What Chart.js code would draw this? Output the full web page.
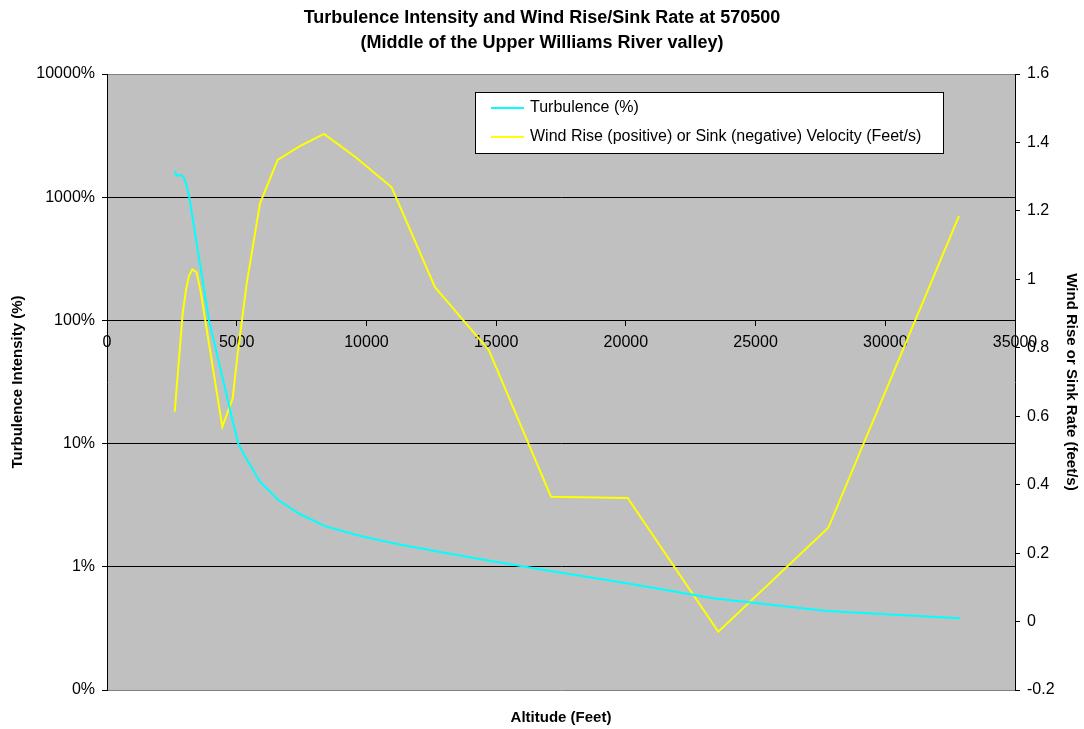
<!DOCTYPE html>
<html>
<head>
<meta charset="utf-8">
<title>Turbulence Intensity and Wind Rise/Sink Rate at 570500</title>
<script src="https://cdn.jsdelivr.net/npm/chart.js@4.4.0/dist/chart.umd.min.js"></script>
<style>
  html, body { margin: 0; padding: 0; background: #ffffff; }
  #wrap { width: 1084px; height: 729px; position: relative; }
</style>
</head>
<body>
<div id="wrap"><canvas id="chart"></canvas></div>
<script>
// --- DATA ---
const turbAlt = [2610, 2687, 2841, 2941, 3045, 3172, 3932, 4290, 4868, 5061, 5319, 5898, 6603, 7374, 8403, 9625, 11036, 12578, 14251, 16690, 20032, 23370, 27741, 32880];
const turbPct = [1633, 1496, 1514, 1466, 1297, 1000, 100, 47.8, 14.6, 10, 7.84, 4.91, 3.48, 2.72, 2.14, 1.81, 1.55, 1.35, 1.17, 0.955, 0.734, 0.555, 0.438, 0.382];

const windAlt = [2610, 2918, 3045, 3161, 3289, 3457, 3611, 4445, 4845, 5023, 5385, 5898, 6578, 7401, 8365, 9560, 10974, 12643, 14720, 17114, 20070, 23564, 27804, 32839];
const windVel = [0.613, 0.901, 0.969, 1.010, 1.029, 1.020, 0.964, 0.569, 0.652, 0.774, 0.988, 1.222, 1.349, 1.388, 1.425, 1.358, 1.269, 0.977, 0.793, 0.365, 0.361, -0.030, 0.274, 1.185];

const altTicks = [0, 5000, 10000, 15000, 20000, 25000, 30000, 35000];
const pctTicks = [0.1, 1, 10, 100, 1000, 10000];
const pctLabels = ['0%', '1%', '10%', '100%', '1000%', '10000%'];
const velTicks = [-0.2, 0, 0.2, 0.4, 0.6, 0.8, 1, 1.2, 1.4, 1.6];

const FONT = '"Liberation Sans", Arial, sans-serif';

// grey plot area
const plotBackground = {
    id: 'plotBackground',
    beforeDraw(chart) {
        const { ctx, chartArea: a } = chart;
        ctx.save();
        ctx.fillStyle = '#c0c0c0';
        ctx.fillRect(a.left, a.top, a.right - a.left, a.bottom - a.top);
        ctx.restore();
    }
};

// boxed legend inside the plot area, like the spreadsheet original
const boxLegend = {
    id: 'boxLegend',
    afterDatasetsDraw(chart) {
        const { ctx, chartArea: a } = chart;
        const x = a.left + 368, y = a.top + 18, w = 468, h = 61;
        ctx.save();
        ctx.fillStyle = '#ffffff';
        ctx.fillRect(x, y, w, h);
        ctx.strokeStyle = '#000000';
        ctx.lineWidth = 1;
        ctx.strokeRect(x + 0.5, y + 0.5, w, h);
        ctx.font = '16px ' + FONT;
        ctx.textBaseline = 'middle';
        chart.data.datasets.forEach((ds, i) => {
            const ly = y + 16 + i * 29;
            ctx.strokeStyle = ds.borderColor;
            ctx.lineWidth = 2;
            ctx.beginPath();
            ctx.moveTo(x + 16, ly);
            ctx.lineTo(x + 49, ly);
            ctx.stroke();
            ctx.fillStyle = '#000000';
            ctx.fillText(ds.label, x + 55, ly);
        });
        ctx.restore();
    }
};

new Chart(document.getElementById('chart'), {
    type: 'scatter',
    data: {
        datasets: [
            {
                label: 'Turbulence (%)',
                data: turbAlt.map((a, i) => ({ x: a, y: turbPct[i] })),
                borderColor: '#00ffff',
                backgroundColor: '#00ffff',
                borderWidth: 2,
                showLine: true,
                pointRadius: 0,
                yAxisID: 'y'
            },
            {
                label: 'Wind Rise (positive) or Sink (negative) Velocity (Feet/s)',
                data: windAlt.map((a, i) => ({ x: a, y: windVel[i] })),
                borderColor: '#ffff00',
                backgroundColor: '#ffff00',
                borderWidth: 2,
                showLine: true,
                pointRadius: 0,
                yAxisID: 'y1'
            }
        ]
    },
    options: {
        responsive: true,
        maintainAspectRatio: false,
        animation: false,
        layout: { padding: 0 },
        plugins: {
            legend: { display: false },
            tooltip: { enabled: false },
            title: {
                display: true,
                text: ['Turbulence Intensity and Wind Rise/Sink Rate at 570500', '(Middle of the Upper Williams River valley)'],
                color: '#000000',
                font: { family: FONT, size: 18, weight: 'bold', lineHeight: 25 / 18 },
                padding: { top: 6, bottom: 18 }
            }
        },
        scales: {
            x: {
                type: 'linear',
                position: { y: 100 },
                min: 0,
                max: 35000,
                afterBuildTicks: s => { s.ticks = altTicks.map(v => ({ value: v })); },
                ticks: {
                    color: '#000000',
                    font: { family: FONT, size: 16 },
                    padding: 8,
                    maxRotation: 0,
                    autoSkip: false,
                    callback: v => String(v)
                },
                grid: { drawOnChartArea: false, drawTicks: true, tickLength: 5, color: '#000000' },
                border: { display: true, color: '#000000', width: 1 }
            },
            x2: {
                type: 'linear',
                position: 'bottom',
                afterFit: s => { s.height = 39; },
                ticks: { display: false },
                grid: { display: false },
                border: { display: false },
                title: {
                    display: true,
                    text: 'Altitude (Feet)',
                    color: '#000000',
                    font: { family: FONT, size: 15, weight: 'bold' },
                    padding: { top: 0, bottom: 2 }
                }
            },
            y: {
                type: 'logarithmic',
                position: 'left',
                min: 0.1,
                max: 10000,
                afterFit: s => { s.width = 107; },
                afterBuildTicks: s => { s.ticks = pctTicks.map(v => ({ value: v })); },
                ticks: {
                    color: '#000000',
                    font: { family: FONT, size: 16 },
                    padding: 7,
                    autoSkip: false,
                    callback: v => pctLabels[pctTicks.indexOf(v)]
                },
                grid: {
                    color: c => (c.tick && (c.tick.value === 10000 || c.tick.value === 0.1)) ? '#808080' : '#000000',
                    tickColor: '#000000',
                    lineWidth: 1,
                    tickLength: 5
                },
                border: { display: true, color: '#000000', width: 1 },
                title: {
                    display: true,
                    text: 'Turbulence Intensity (%)',
                    color: '#000000',
                    font: { family: FONT, size: 15, weight: 'bold' },
                    padding: { top: 9, bottom: 0 }
                }
            },
            y1: {
                type: 'linear',
                position: 'right',
                min: -0.2,
                max: 1.6,
                afterFit: s => { s.width = 69; },
                afterBuildTicks: s => { s.ticks = velTicks.map(v => ({ value: v })); },
                ticks: {
                    color: '#000000',
                    font: { family: FONT, size: 16 },
                    padding: 7,
                    autoSkip: false,
                    callback: v => String(Math.round(v * 10) / 10)
                },
                grid: { drawOnChartArea: false, tickLength: 5, color: '#000000' },
                border: { display: true, color: '#000000', width: 1 },
                title: {
                    display: true,
                    text: 'Wind Rise or Sink Rate (feet/s)',
                    color: '#000000',
                    font: { family: FONT, size: 15, weight: 'bold' },
                    padding: { top: 4, bottom: 0 }
                }
            }
        }
    },
    plugins: [plotBackground, boxLegend]
});
</script>
</body>
</html>
